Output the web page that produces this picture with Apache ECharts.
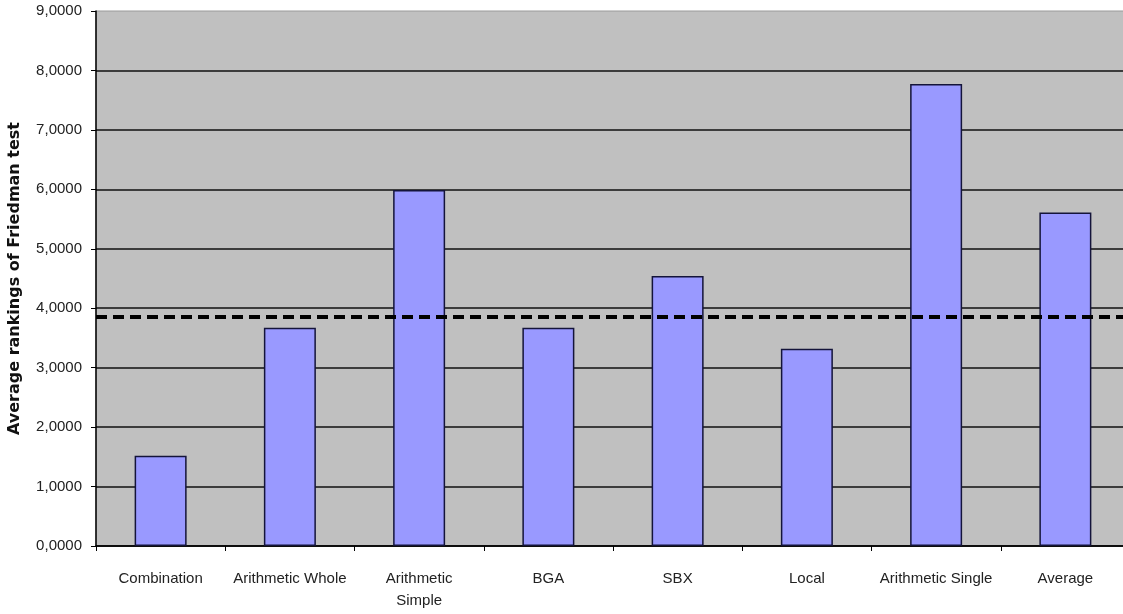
<!DOCTYPE html>
<html>
<head>
<meta charset="utf-8">
<script src="https://cdn.jsdelivr.net/npm/echarts@6/dist/echarts.min.js"></script>
<style>
  html, body { margin: 0; padding: 0; background: #fff; }
  #main { width: 1123px; height: 614px; }
</style>
</head>
<body>
<div id="main"></div>
<script>
// categories on the x axis
var categories = ['Combination', 'Arithmetic Whole', 'Arithmetic\nSimple', 'BGA', 'SBX', 'Local', 'Arithmetic Single', 'Average'];
// average Friedman ranking per method
var rankings = [1.52, 3.67, 5.99, 3.67, 4.54, 3.32, 7.77, 5.61];
// critical value shown as the dashed line
var threshold = [3.85];

var myChart = echarts.init(document.getElementById('main'));

var option = {
  animation: false,
  backgroundColor: '#ffffff',
  textStyle: { fontFamily: 'Liberation Sans, Arial, sans-serif' },
  grid: {
    left: 96, top: 11, right: -7, bottom: 68,
    outerBoundsMode: 'none',
    containLabel: false,
    show: true,
    backgroundColor: '#c0c0c0',
    borderColor: '#9a9a9a',
    borderWidth: 1
  },
  xAxis: {
    type: 'category',
    data: categories,
    axisLine: { lineStyle: { color: '#000', width: 1.5 } },
    axisTick: { show: true, interval: 0, length: 5, lineStyle: { color: '#000' } },
    axisLabel: { interval: 0, color: '#222', fontSize: 15, margin: 22, lineHeight: 22 }
  },
  yAxis: {
    type: 'value',
    min: 0, max: 9, interval: 1,
    name: 'Average rankings of Friedman test',
    nameLocation: 'middle',
    nameGap: 73,
    nameTextStyle: { color: '#111', fontSize: 16, fontFamily: 'DejaVu Sans', fontWeight: 'bold' },
    axisLine: { show: true, lineStyle: { color: '#000', width: 1.5 } },
    axisTick: { show: true, length: 5, lineStyle: { color: '#000' } },
    axisLabel: {
      color: '#222', fontSize: 15, margin: 14,
      formatter: function (v) { return v.toFixed(4).replace('.', ','); }
    },
    splitLine: { show: true, showMaxLine: false, lineStyle: { color: '#111', width: 1.5 } }
  },
  series: [{
    type: 'bar',
    data: rankings,
    barWidth: 52,
    itemStyle: { color: '#9999ff', borderColor: '#14143a', borderWidth: 1.5 },
    markLine: {
      silent: true,
      symbol: 'none',
      label: { show: false },
      lineStyle: { color: '#000', width: 4, type: [11, 6] },
      data: [{ yAxis: threshold[0] }]
    }
  }]
};

myChart.setOption(option);
</script>
</body>
</html>
